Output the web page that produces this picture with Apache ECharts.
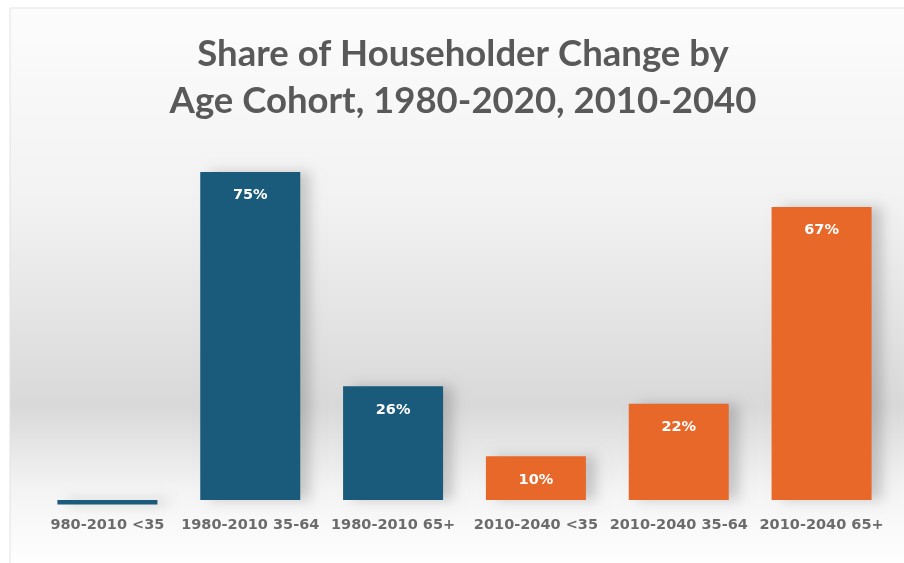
<!DOCTYPE html>
<html>
<head>
<meta charset="utf-8">
<script src="https://cdn.jsdelivr.net/npm/echarts@6/dist/echarts.min.js"></script>
<style>
  html, body { margin: 0; padding: 0; background: #fff; }
  #main { width: 904px; height: 563px; }
</style>
</head>
<body>
<div id="main"></div>
<script>
// categories as shown on the chart (first label is cut off in the source)
var categories = ['980-2010 <35', '1980-2010 35-64', '1980-2010 65+', '2010-2040 <35', '2010-2040 35-64', '2010-2040 65+'];
// share of householder change, percent
var shares = [-1, 75, 26, 10, 22, 67];
// which period each bar belongs to
var periods = ['1980-2010', '1980-2010', '1980-2010', '2010-2040', '2010-2040', '2010-2040'];

var periodColors = { '1980-2010': '#1a5a7b', '2010-2040': '#e8682a' };

var chart = echarts.init(document.getElementById('main'));

var barData = shares.map(function (v, i) {
  return {
    value: v,
    itemStyle: { color: periodColors[periods[i]] },
    label: { show: v > 0 }
  };
});

var option = {
  backgroundColor: '#ffffff',
  animation: false,
  graphic: [
    {
      type: 'rect',
      z: -10,
      shape: { x: 10, y: 8, width: 900, height: 560 },
      style: {
        fill: new echarts.graphic.LinearGradient(0, 0, 0, 1, [
          { offset: 0, color: '#fcfcfc' },
          { offset: 0.35, color: '#f2f2f2' },
          { offset: 0.71, color: '#d9d9d9' },
          { offset: 0.86, color: '#f4f4f4' },
          { offset: 1, color: '#ffffff' }
        ]),
        stroke: '#e2e2e2',
        lineWidth: 1
      }
    }
  ],
  title: {
    text: 'Share of Householder Change by\nAge Cohort, 1980-2020, 2010-2040',
    left: 458,
    textAlign: 'center',
    top: 26,
    textStyle: {
      fontFamily: 'Lato',
      fontWeight: 'bold',
      fontSize: 36.5,
      lineHeight: 47,
      color: '#595959'
    }
  },
  grid: { left: 36, right: 11, top: 150, bottom: 58.6 },
  xAxis: {
    type: 'category',
    data: categories,
    axisLine: { show: false },
    axisTick: { show: false },
    axisLabel: {
      margin: 13,
      interval: 0,
      fontFamily: 'DejaVu Sans',
      fontWeight: 'bold',
      fontSize: 14.5,
      color: '#6b6b6b'
    }
  },
  yAxis: {
    type: 'value',
    min: -1,
    max: 80,
    show: false,
    splitLine: { show: false }
  },
  series: [
    {
      type: 'bar',
      data: barData,
      barWidth: 100,
      itemStyle: {
        shadowColor: 'rgba(0,0,0,0.18)',
        shadowBlur: 12,
        shadowOffsetX: 10,
        shadowOffsetY: 0
      },
      label: {
        position: 'insideTop',
        distance: 16,
        formatter: '{c}%',
        color: '#ffffff',
        fontFamily: 'DejaVu Sans',
        fontWeight: 'bold',
        fontSize: 14.5
      }
    }
  ]
};

chart.setOption(option);
</script>
</body>
</html>
